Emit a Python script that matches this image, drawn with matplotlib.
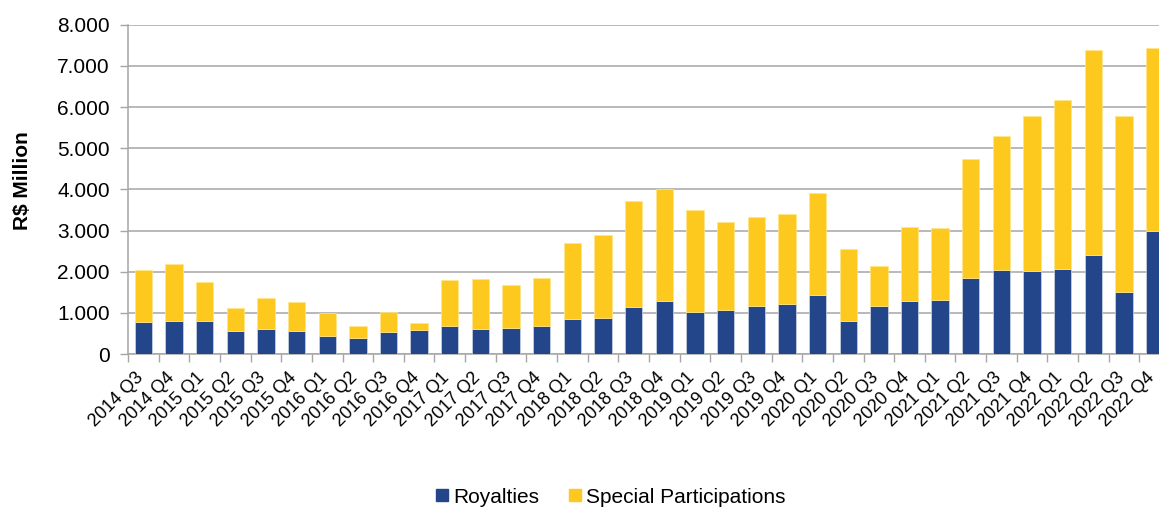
import matplotlib
matplotlib.use('Agg')
import numpy as np
from matplotlib import pyplot as plt
from matplotlib.patches import Patch
from matplotlib.ticker import FuncFormatter

quarters = ['2014 Q3', '2014 Q4',
            '2015 Q1', '2015 Q2', '2015 Q3', '2015 Q4',
            '2016 Q1', '2016 Q2', '2016 Q3', '2016 Q4',
            '2017 Q1', '2017 Q2', '2017 Q3', '2017 Q4',
            '2018 Q1', '2018 Q2', '2018 Q3', '2018 Q4',
            '2019 Q1', '2019 Q2', '2019 Q3', '2019 Q4',
            '2020 Q1', '2020 Q2', '2020 Q3', '2020 Q4',
            '2021 Q1', '2021 Q2', '2021 Q3', '2021 Q4',
            '2022 Q1', '2022 Q2', '2022 Q3', '2022 Q4']

# R$ million per quarter
royalties = [770, 802, 794, 551, 607, 559, 445, 380, 542, 575,
             672, 607, 632, 688, 858, 866, 1142, 1295, 1012, 1077,
             1174, 1207, 1425, 802, 1158, 1287, 1319, 1853, 2048, 2024,
             2072, 2412, 1498, 2995]
special = [1270, 1377, 963, 559, 753, 712, 543, 300, 478, 178,
           1118, 1207, 1036, 1150, 1838, 2024, 2566, 2713, 2478, 2121,
           2146, 2201, 2486, 1756, 987, 1805, 1734, 2883, 3255, 3749,
           4098, 4972, 4283, 4445]

blue = '#23468B'
yellow = '#FEC91F'

plt.rcParams['font.family'] = ['Liberation Sans', 'DejaVu Sans']

fig = plt.figure(figsize=(11.59, 5.11), dpi=100)
ax = fig.add_axes([128 / 1159, 157 / 511, 1042 / 1159, 329.3 / 511])

x = np.arange(len(quarters))
ax.bar(x, royalties, width=0.565, color=blue, edgecolor='#d0d6e6', linewidth=0.5, zorder=3)
ax.bar(x, special, bottom=royalties, width=0.565, color=yellow, edgecolor='#ffe68a',
       linewidth=0.5, zorder=3)

ax.set_xlim(-0.5, len(quarters) - 0.5)
ax.set_ylim(0, 8000)
ax.set_yticks(np.arange(0, 8001, 1000))
ax.yaxis.set_major_formatter(FuncFormatter(lambda v, p: f'{int(v):,}'.replace(',', '.')))
ax.grid(axis='y', color='#a6a6a6', linewidth=1.1, zorder=0)

# labels sit a little left of the bar centre, tick marks go between the bars
ax.set_xticks(x - 0.28)
ax.set_xticklabels(quarters, rotation=45, ha='right', rotation_mode='anchor', fontsize=13)
ax.set_xticks(np.arange(-0.5, len(quarters), 1), minor=True)
ax.tick_params(axis='x', which='major', length=0, pad=11)
ax.tick_params(axis='x', which='minor', length=6, color='#a6a6a6', width=1)
ax.tick_params(axis='y', length=6, color='#a6a6a6', width=1, labelsize=15, pad=7)

for s in ['top', 'right']:
    ax.spines[s].set_visible(False)
for s in ['left', 'bottom']:
    ax.spines[s].set_color('#a6a6a6')
    ax.spines[s].set_linewidth(1.1)

ax.set_ylabel('R$ Million', fontsize=15, fontweight='bold')
ax.yaxis.set_label_coords(-0.0925, 0.528)

handles = [Patch(color=blue, label='Royalties'),
           Patch(color=yellow, label='Special Participations')]
fig.legend(handles=handles, loc='center', bbox_to_anchor=(611 / 1159, 1 - 497 / 511),
           ncol=2, frameon=False, fontsize=15, handlelength=0.55, handleheight=0.55,
           handletextpad=0.25, columnspacing=1.45)

fig.savefig('out.png', dpi=100)
